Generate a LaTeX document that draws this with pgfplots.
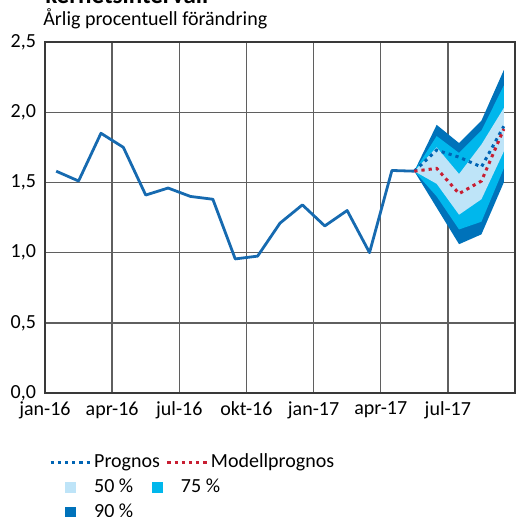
\documentclass[border=0pt]{standalone}
\usepackage{pgfplots}
\pgfplotsset{compat=1.18}
\usepackage{fontspec}
\setmainfont{Carlito}
\definecolor{lineblue}{RGB}{22,106,176}
\definecolor{darkband}{RGB}{0,114,186}
\definecolor{cyanband}{RGB}{0,183,236}
\definecolor{lightband}{RGB}{190,228,248}
\definecolor{progblue}{RGB}{0,100,180}
\definecolor{modred}{RGB}{200,30,50}
\definecolor{gridc}{RGB}{95,95,95}
\begin{document}
\begin{tikzpicture}
\begin{axis}[
  at={(0,0)}, anchor=south west,
  scale only axis, width=235pt, height=175.5pt,
  xmin=0, xmax=21, ymin=0, ymax=2.5,
  xtick={0,3,6,9,12,15,18},
  xticklabels={jan-16,apr-16,jul-16,okt-16,jan-17,apr-17,jul-17},
  ytick={0,0.5,1,1.5,2,2.5},
  /pgf/number format/fixed, /pgf/number format/fixed zerofill,
  /pgf/number format/precision=1, /pgf/number format/use comma,
  /pgf/number format/assume math mode=true,
  ticklabel style={font=\fontsize{10}{12}\selectfont},
  xticklabel style={yshift=-1pt},
  yticklabel style={xshift=-1pt},
  tick style={draw=none},
  grid=major,
  major grid style={draw=gridc, line width=0.7pt},
  axis line style={draw=gridc!60!black, line width=0.8pt},
  legend columns=2,
  legend cell align=left,
  legend style={at={(0.008,-0.165)}, anchor=north west, draw=none, fill=none,
    inner sep=0pt, font=\fontsize{10}{12}\selectfont,
    nodes={text height=7pt, text depth=2pt, inner sep=1pt, anchor=west},
    row sep=1.5pt,
    /tikz/every odd column/.append style={column sep=0pt},
    /tikz/every even column/.append style={column sep=2pt}},
]
% fan chart bands
\addplot[fill=darkband, draw=none, forget plot] coordinates {
 (16.5,1.58) (17.5,1.91) (18.5,1.78) (19.5,1.94) (20.5,2.30)
 (20.5,1.50) (19.5,1.13) (18.5,1.06) (17.5,1.32) (16.5,1.58)} -- cycle;
\addplot[fill=cyanband, draw=none, forget plot] coordinates {
 (16.5,1.58) (17.5,1.83) (18.5,1.71) (19.5,1.87) (20.5,2.19)
 (20.5,1.60) (19.5,1.22) (18.5,1.165) (17.5,1.40) (16.5,1.58)} -- cycle;
\addplot[fill=lightband, draw=none, forget plot] coordinates {
 (16.5,1.58) (17.5,1.75) (18.5,1.56) (19.5,1.77) (20.5,2.03)
 (20.5,1.72) (19.5,1.38) (18.5,1.27) (17.5,1.49) (16.5,1.58)} -- cycle;
% outcome
\addplot[lineblue, line width=1.4pt, line join=round, forget plot] coordinates {
 (0.5,1.58) (1.5,1.51) (2.5,1.85) (3.5,1.75) (4.5,1.41) (5.5,1.46)
 (6.5,1.40) (7.5,1.38) (8.5,0.955) (9.5,0.975) (10.5,1.21) (11.5,1.34)
 (12.5,1.19) (13.5,1.30) (14.5,1.00) (15.5,1.585) (16.5,1.58)};
% forecasts
\addplot[progblue, line width=1.5pt, dash pattern=on 1.6pt off 2pt, forget plot] coordinates {
 (16.5,1.58) (17.5,1.73) (18.5,1.68) (19.5,1.61) (20.5,1.90)};
\addplot[modred, line width=1.5pt, dash pattern=on 1.6pt off 2pt, forget plot] coordinates {
 (16.5,1.58) (17.5,1.60) (18.5,1.42) (19.5,1.51) (20.5,1.88)};
% legend
\addlegendimage{legend image code/.code={\draw[progblue, line width=1.5pt, dash pattern=on 1.6pt off 2pt] (0pt,0pt) -- (20pt,0pt);}}
\addlegendimage{legend image code/.code={\draw[modred, line width=1.5pt, dash pattern=on 1.6pt off 2pt] (0pt,0pt) -- (20pt,0pt);}}
\addlegendimage{legend image code/.code={\fill[lightband] (7.5pt,-2.3pt) rectangle (12.5pt,2.7pt);}}
\addlegendimage{legend image code/.code={\fill[cyanband, overlay] (-7.5pt,-2.3pt) rectangle (-2.5pt,2.7pt);}}
\addlegendimage{legend image code/.code={\fill[darkband] (7.5pt,-2.3pt) rectangle (12.5pt,2.7pt);}}
\legend{Prognos, Modellprognos, 50 \%, \hspace*{-15pt}75 \%, 90 \%}
\end{axis}
\node[anchor=base west, inner sep=0pt, font=\fontsize{10}{12}\selectfont] at (-1pt,184pt) {Årlig procentuell förändring};
\node[anchor=base west, inner sep=0pt, font=\bfseries\fontsize{12.5}{14}\selectfont] at (0pt,195pt) {kerhetsintervall};
\pgfresetboundingbox
\useasboundingbox (-22.5pt,-61.5pt) rectangle (238.5pt,196.5pt);
\end{tikzpicture}
\end{document}
